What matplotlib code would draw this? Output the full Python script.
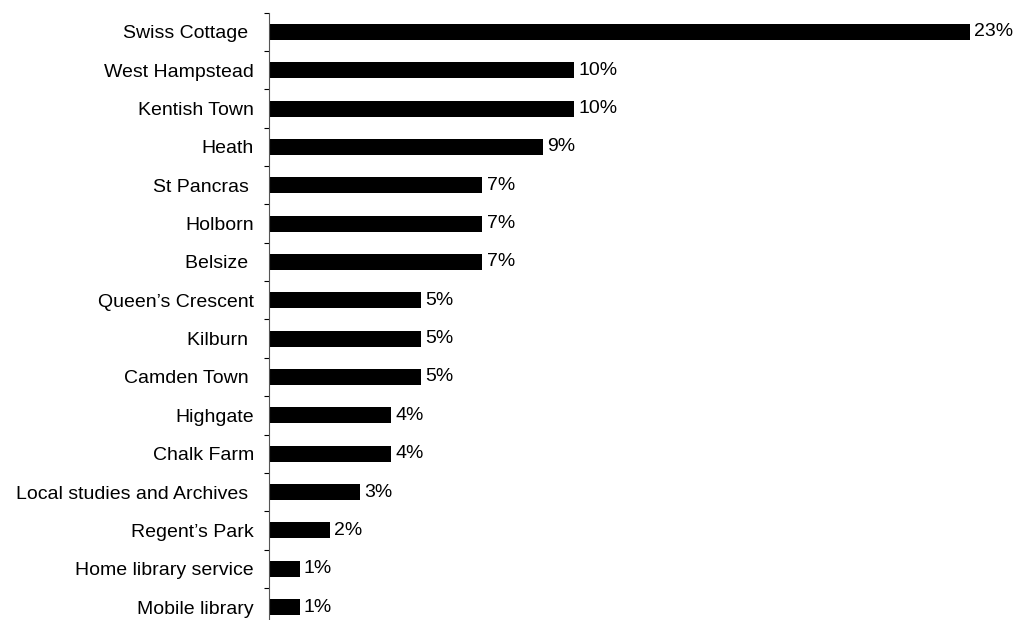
import matplotlib
matplotlib.use("Agg")
import matplotlib.pyplot as plt
import numpy as np

plt.rcParams["font.family"] = ["Liberation Sans", "DejaVu Sans"]

# Share of visits by library (per cent)
libraries = [
    "Swiss Cottage ", "West Hampstead", "Kentish Town", "Heath",
    "St Pancras ", "Holborn", "Belsize ", "Queen\u2019s Crescent",
    "Kilburn ", "Camden Town ", "Highgate", "Chalk Farm",
    "Local studies and Archives ", "Regent\u2019s Park",
    "Home library service", "Mobile library",
]
shares = [23, 10, 10, 9, 7, 7, 7, 5, 5, 5, 4, 4, 3, 2, 1, 1]

fig = plt.figure(figsize=(10.16, 6.2), dpi=100)
ax = fig.add_axes([0.2648, -0.0100, 0.75, 0.9894])

y = np.arange(len(libraries))
bars = ax.barh(y, shares, height=0.42, color="black")
for rect, v in zip(bars, shares):
    ax.annotate(f"{v}%", (rect.get_width(), rect.get_y() + rect.get_height() / 2),
                xytext=(3, 0), textcoords="offset points",
                ha="left", va="center", fontsize=14)

ax.set_ylim(len(libraries) - 0.5, -0.5)
ax.set_xlim(0, 25)
ax.set_yticks(y)
ax.set_yticklabels(libraries, fontsize=14)
ax.set_yticks(np.arange(len(libraries) + 1) - 0.5, minor=True)
ax.tick_params(axis="y", which="major", length=0, pad=11)
ax.tick_params(axis="y", which="minor", length=3.5, width=0.8, direction="out")

for side in ("top", "right", "bottom"):
    ax.spines[side].set_visible(False)
ax.spines["left"].set_linewidth(0.8)
ax.spines["left"].set_color("#555555")
ax.xaxis.set_visible(False)

fig.savefig("out.png", dpi=100)
